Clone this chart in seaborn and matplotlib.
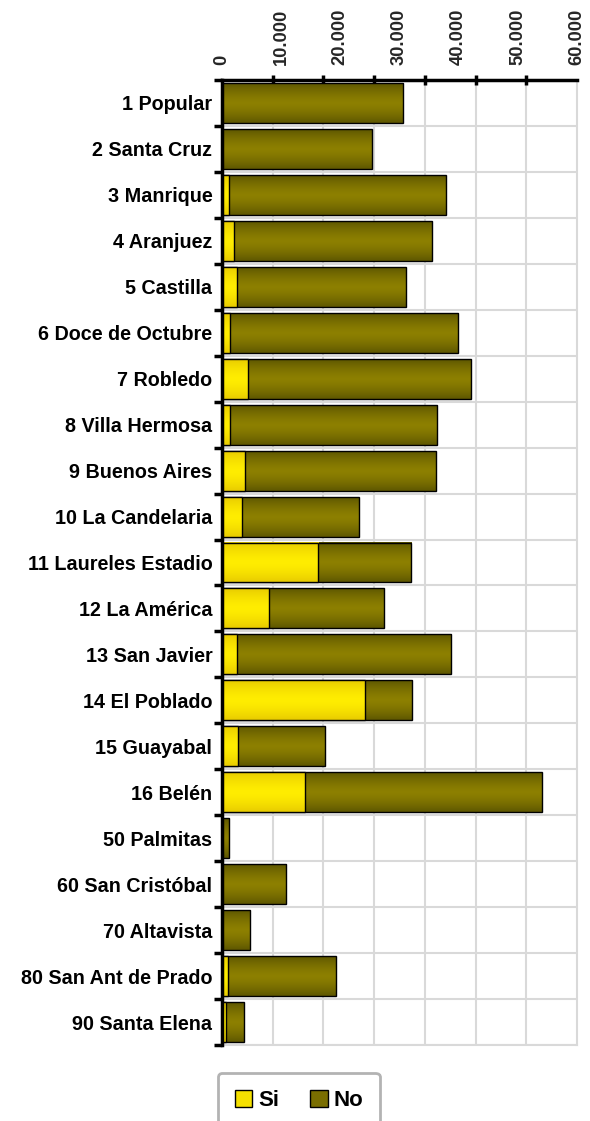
import numpy as np
import pandas as pd
import matplotlib
matplotlib.use("Agg")
import matplotlib.pyplot as plt
from matplotlib.patches import Patch
from matplotlib.ticker import FixedLocator, FuncFormatter
import seaborn as sns

comunas = ["1 Popular", "2 Santa Cruz", "3 Manrique", "4 Aranjuez", "5 Castilla",
           "6 Doce de Octubre", "7 Robledo", "8 Villa Hermosa", "9 Buenos Aires",
           "10 La Candelaria", "11 Laureles Estadio", "12 La América", "13 San Javier",
           "14 El Poblado", "15 Guayabal", "16 Belén", "50 Palmitas", "60 San Cristóbal",
           "70 Altavista", "80 San Ant de Prado", "90 Santa Elena"]
si = [0, 0, 1200, 2000, 2500, 1300, 4400, 1350, 3850, 3400, 16250, 7950, 2550,
      24200, 2750, 14100, 0, 0, 0, 1000, 700]
no = [30600, 25350, 36600, 33550, 28550, 38650, 37750, 35050, 32250, 19700, 15750,
      19350, 36200, 7950, 14600, 39950, 1200, 10900, 4800, 18200, 3000]
x_ticks = [0, 10000, 20000, 30000, 40000, 50000, 60000]

df = pd.DataFrame({"comuna": comunas, "Si": si, "No": no})
df["total"] = df["Si"] + df["No"]

sns.set_theme(style="white")
plt.rcParams["font.family"] = ["Liberation Sans", "DejaVu Sans"]
plt.rcParams["font.weight"] = "bold"

fig = plt.figure(figsize=(5.9, 11.21), dpi=100)
ax = fig.add_axes([222 / 590, 1 - 1045 / 1121, 355 / 590, (1045 - 80) / 1121])

NO_C = "#7a6e00"
SI_C = "#f5e000"
sns.barplot(data=df, x="total", y="comuna", color=NO_C, orient="h", width=0.87,
            edgecolor="black", linewidth=1.0, saturation=1, ax=ax)
n_no = len(ax.patches)
sns.barplot(data=df, x="Si", y="comuna", color=SI_C, orient="h", width=0.87,
            edgecolor="black", linewidth=1.0, saturation=1, ax=ax)

# vertical shading on each bar: darker at the edges, lighter in the middle
t = np.linspace(0, 1, 64)
prof = 1 - (2 * np.abs(t - 0.5)) ** 1.5
shades = {
    "no": (np.array([0.37, 0.34, 0.0]), np.array([0.55, 0.50, 0.0])),
    "si": (np.array([0.91, 0.80, 0.0]), np.array([1.0, 0.93, 0.0])),
}
for i, p in enumerate(list(ax.patches)):
    w = p.get_width()
    x0, y0, h = p.get_x(), p.get_y(), p.get_height()
    lo, hi = shades["no" if i < n_no else "si"]
    img = lo[None, :] + (hi - lo)[None, :] * prof[:, None]
    z = 2 if i < n_no else 4
    if w > 0:
        ax.imshow(img[:, None, :], extent=[x0, x0 + w, y0 + h, y0], aspect="auto",
                  interpolation="bilinear", zorder=z)
    p.set_facecolor("none")
    p.set_zorder(z + 1)

n = len(comunas)
ax.set_xlim(0, 60000)
ax.set_ylim(n - 0.5, -0.5)
ax.set_xlabel("")
ax.set_ylabel("")

# value axis on top
ax.xaxis.tick_top()
ax.set_xticks(x_ticks)
ax.xaxis.set_major_formatter(FuncFormatter(lambda v, _: f"{int(v):,}".replace(",", ".")))
ax.xaxis.set_minor_locator(FixedLocator(np.linspace(0, 60000, 8)))
ax.tick_params(axis="x", which="major", length=0, pad=11, labelsize=13.2, rotation=90)
ax.tick_params(axis="x", which="minor", top=True, bottom=False, direction="inout",
               length=7, width=2.5, color="black")
for lbl in ax.get_xticklabels():
    lbl.set_fontweight("bold")

ax.yaxis.set_minor_locator(FixedLocator(np.arange(n + 1) - 0.5))
ax.tick_params(axis="y", which="major", length=0, pad=7, labelsize=14.2)
ax.tick_params(axis="y", which="minor", left=True, direction="out", length=6,
               width=2.5, color="black")
for lbl in ax.get_yticklabels():
    lbl.set_fontweight("bold")
    lbl.set_color("black")

ax.grid(False)
ax.grid(True, which="minor", color="#d9d9d9", linewidth=1.5)
ax.set_axisbelow(True)

for s in ["top", "left"]:
    ax.spines[s].set_color("black")
    ax.spines[s].set_linewidth(2.5)
    ax.spines[s].set_zorder(10)
for s in ["right", "bottom"]:
    ax.spines[s].set_color("#d9d9d9")
    ax.spines[s].set_linewidth(1.5)

handles = [Patch(facecolor=SI_C, edgecolor="black", label="Si"),
           Patch(facecolor=NO_C, edgecolor="black", label="No")]
leg = fig.legend(handles=handles, loc="upper left", bbox_to_anchor=(218 / 590, 1 - 1073 / 1121),
                 ncol=2, frameon=True, fancybox=True, prop={"weight": "bold", "size": 16},
                 handlelength=0.8, handleheight=0.8, handletextpad=0.25, columnspacing=1.4,
                 borderpad=0.75, borderaxespad=0)
leg.get_frame().set_edgecolor("#a0a0a0")
leg.get_frame().set_linewidth(2)
for txt in leg.get_texts():
    txt.set_color("black")

fig.savefig("out.png", dpi=100)
